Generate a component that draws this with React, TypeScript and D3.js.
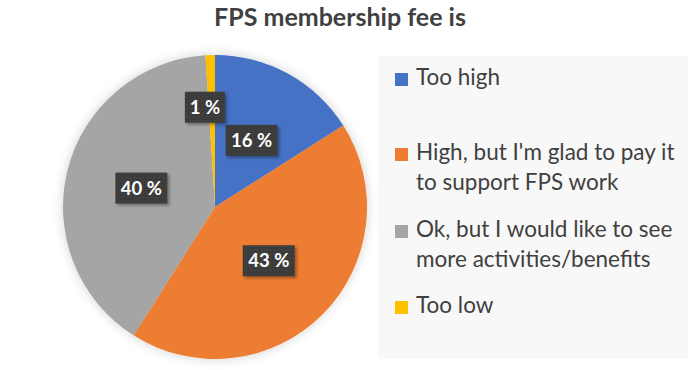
import * as d3 from "d3";

const categories = [
  "Too high",
  "High, but I'm glad to pay it to support FPS work",
  "Ok, but I would like to see more activities/benefits",
  "Too low",
];
const values = [16, 43, 40, 1];
const legendLines = [
  ["Too high"],
  ["High, but I'm glad to pay it", "to support FPS work"],
  ["Ok, but I would like to see", "more activities/benefits"],
  ["Too low"],
];
const colors = ["#4472C4", "#ED7D31", "#A5A5A5", "#FFC000"];
const title = "FPS membership fee is";

const W = 688;
const H = 370;
const cx = 215;
const cy = 207;
const R = 152;
const FONT = "Lato, Calibri, 'Open Sans', sans-serif";

export default function App() {
  const pie = d3
    .pie<number>()
    .sort(null)
    .value((d) => d);
  const arcs = pie(values);
  const arc = d3.arc<d3.PieArcDatum<number>>().innerRadius(0).outerRadius(R);
  const total = d3.sum(values);

  // label radius as fraction of R (tiny slice pushed outward like Excel's best fit)
  const labelPos = (d: d3.PieArcDatum<number>) => {
    const small = d.value / total < 0.05;
    const frac = small ? 0.66 : 0.5;
    const a = (d.startAngle + d.endAngle) / 2 - (small ? 0.07 : 0);
    return [Math.sin(a) * R * frac, -Math.cos(a) * R * frac];
  };

  const legendRows = [85, 160, 237, 313];
  const lineGap = 30;

  return (
    <svg
      width={W}
      height={H}
      style={{ position: "absolute", left: 0, top: 0, background: "#fff" }}
      fontFamily={FONT}
    >
      <defs>
        <filter id="pieShadow" x="-20%" y="-20%" width="140%" height="140%">
          <feGaussianBlur in="SourceAlpha" stdDeviation="6" />
          <feOffset dx="0" dy="0" result="b" />
          <feComponentTransfer>
            <feFuncA type="linear" slope="0.18" />
          </feComponentTransfer>
          <feMerge>
            <feMergeNode />
            <feMergeNode in="SourceGraphic" />
          </feMerge>
        </filter>
        <filter id="boxShadow" x="-20%" y="-20%" width="150%" height="150%">
          <feGaussianBlur in="SourceAlpha" stdDeviation="1.5" />
          <feOffset dx="2" dy="2" />
          <feComponentTransfer>
            <feFuncA type="linear" slope="0.35" />
          </feComponentTransfer>
          <feMerge>
            <feMergeNode />
            <feMergeNode in="SourceGraphic" />
          </feMerge>
        </filter>
        <pattern id="dots" width="4" height="4" patternUnits="userSpaceOnUse">
          <rect width="4" height="4" fill="#3a3a3a" />
          <rect x="1" y="1" width="1" height="1" fill="#555" />
        </pattern>
      </defs>

      <text
        x={340}
        y={26}
        textAnchor="middle"
        fontSize={25}
        fontWeight="bold"
        fill="#404040"
      >
        {title}
      </text>

      <g transform={`translate(${cx},${cy})`} filter="url(#pieShadow)">
        {arcs.map((d, i) => (
          <path key={categories[i]} d={arc(d) || ""} fill={colors[i]} />
        ))}
      </g>

      <g transform={`translate(${cx},${cy})`}>
        {arcs.map((d, i) => {
          const [lx, ly] = labelPos(d);
          const txt = `${values[i]} %`;
          const bw = txt.length > 3 ? 52 : 40;
          const bh = 31;
          return (
            <g key={"l" + i} transform={`translate(${lx},${ly})`}>
              <rect
                x={-bw / 2}
                y={-bh / 2}
                width={bw}
                height={bh}
                fill="url(#dots)"
                filter="url(#boxShadow)"
              />
              <text
                y={6.5}
                textAnchor="middle"
                fontSize={18.5}
                fontWeight="bold"
                fill="#fff"
              >
                {txt}
              </text>
            </g>
          );
        })}
      </g>

      <rect x={378} y={56} width={320} height={303} fill="#f8f8f8" />
      {legendLines.map((lines, i) => (
        <g key={"g" + i}>
          <rect
            x={395}
            y={legendRows[i] - 12}
            width={13}
            height={13}
            fill={colors[i]}
          />
          {lines.map((ln, j) => (
            <text
              key={j}
              x={416}
              y={legendRows[i] + j * lineGap}
              fontSize={22.5}
              fill="#404040"
            >
              {ln}
            </text>
          ))}
        </g>
      ))}
    </svg>
  );
}
